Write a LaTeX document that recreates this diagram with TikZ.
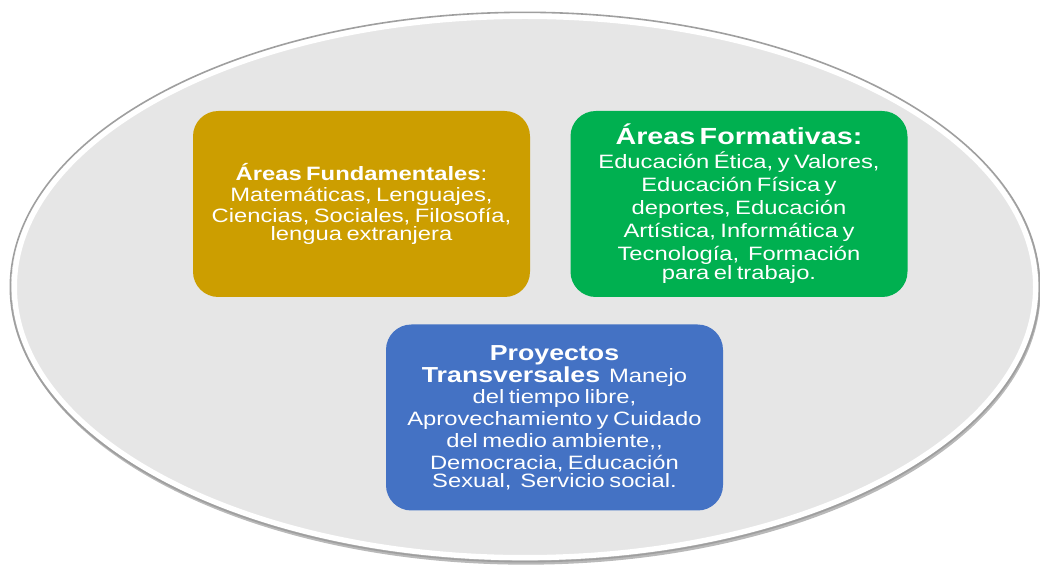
\documentclass[tikz,border=0pt]{standalone}
\usepackage{fontspec}
\setmainfont[FakeStretch=1.23]{Liberation Sans}
\definecolor{areagold}{RGB}{204,158,0}
\definecolor{areagreen}{RGB}{0,176,80}
\definecolor{areablue}{RGB}{68,114,196}
\definecolor{ovalgray}{RGB}{230,230,230}

\begin{document}
\begin{tikzpicture}[x=0.75pt, y=-0.75pt,
   areabox/.style={rounded corners=19pt, minimum width=252.75pt, minimum height=139.5pt,
      text width=250pt, align=center, text=white, inner sep=0pt}]
   \useasboundingbox (0,0) rectangle (1040,566);
   % oval behind the three boxes
   \fill[gray!55] (526,290) ellipse [x radius=386pt, y radius=206pt];
   \draw[white, fill=ovalgray, line width=4pt] (525,287) ellipse [x radius=383pt, y radius=203pt];
   \draw[gray!75, line width=1.2pt] (525,287) ellipse [x radius=386pt, y radius=206pt];
   \node[areabox, fill=areagold] (fund) at (361.5,204)
      {\fontsize{14.5}{15.6}\selectfont\textbf{Áreas Fundamentales}:\\ Matemáticas, Lenguajes,\\ Ciencias, Sociales, Filosofía,\\ lengua extranjera};
   \node[areabox, fill=areagreen] (form) at (739,204)
      {\fontsize{14.5}{17.3}\selectfont{\fontsize{17.5}{17.3}\selectfont\textbf{Áreas Formativas:}}\\ Educación Ética, y Valores,\\ Educación Física y\\ deportes, Educación\\ Artística, Informática y\\ Tecnología,\ \ Formación\\ para el trabajo.};
   \node[areabox, fill=areablue] (trans) at (554.5,417.5)
      {\fontsize{14.5}{16.4}\selectfont{\fontsize{16.3}{16.4}\selectfont\textbf{Proyectos}\\ \textbf{Transversales}}\ \ Manejo\\ del tiempo libre,\\ Aprovechamiento y Cuidado\\ del medio ambiente,{},\\ Democracia, Educación\\ Sexual,\ \ Servicio social.};
\end{tikzpicture}
\end{document}
